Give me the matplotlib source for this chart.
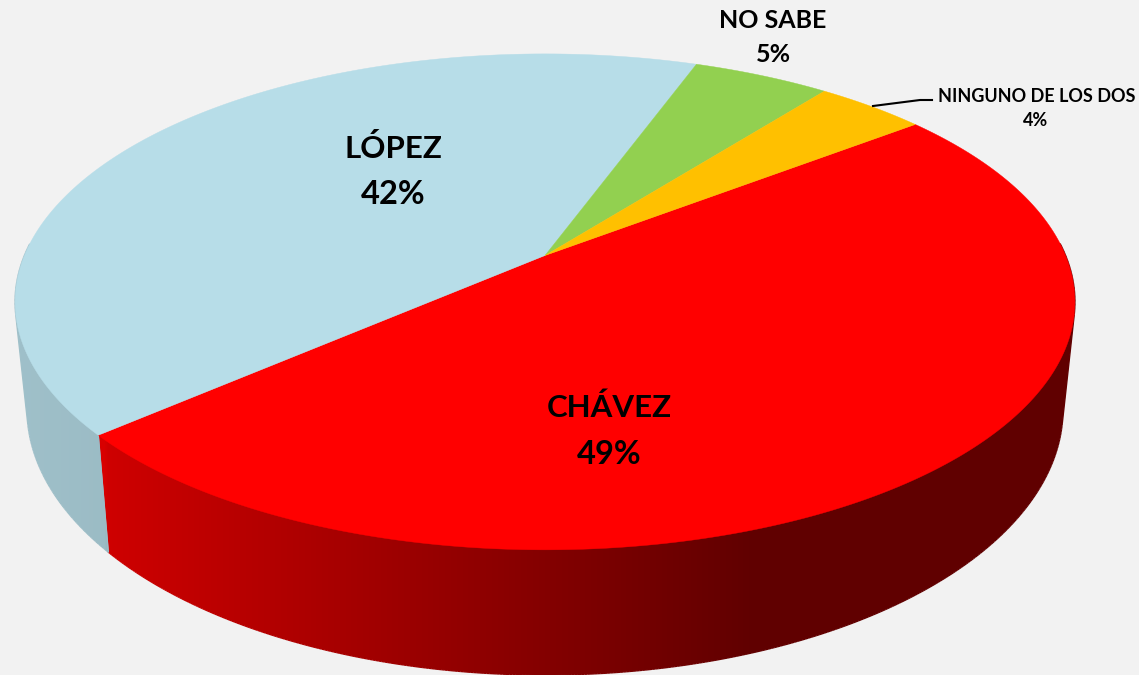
import numpy as np
import matplotlib
matplotlib.use("Agg")
import matplotlib.pyplot as plt
from matplotlib.collections import LineCollection
from matplotlib.patches import Polygon

# slices clockwise from the start angle
labels = ["CHÁVEZ", "LÓPEZ", "NO SABE", "NINGUNO DE LOS DOS"]
values = [49, 42, 5, 4]
colors = ["#FF0000", "#B7DDE8", "#92D050", "#FFC000"]

START_ANGLE = 37.6
BG = "#F2F2F2"
CX = 545
K = 0.187  # perspective strength


# disc projected with perspective, the far side shrinks
def top_rim(t):
    s = 1 + K * np.sin(t)
    return CX + 520.6 * np.cos(t) / s, 255.5 - 239.3 * np.sin(t) / s


def bottom_rim(t):
    s = 1 + K * np.sin(t)
    return CX + 508.9 * np.cos(t) / s, 359.3 - 256.7 * np.sin(t) / s


# side of the pie gets darker going right
def shade(x):
    return np.interp(x, [14, 104, 108, 750], [0.87, 0.85, 0.81, 0.38])


# outline of a side: the top covers the inner part of the hull anyway
def hull(points):
    points = sorted(set(points))

    def half(pts):
        out = []
        for p in pts:
            while len(out) > 1:
                a, b = out[-2], out[-1]
                if (b[0] - a[0]) * (p[1] - a[1]) - (b[1] - a[1]) * (p[0] - a[0]) > 0:
                    break
                out.pop()
            out.append(p)
        return out[:-1]

    return half(points) + half(points[::-1])


fig = plt.figure(figsize=(11.39, 6.75), dpi=100, facecolor=BG)
ax = fig.add_axes([0, 0, 1, 1])

angles = START_ANGLE - np.cumsum([0] + values) * 3.6
xgrid = np.arange(0, 1140)

# sides first, only the part facing the viewer
for i, color in enumerate(colors):
    ts = np.radians(np.linspace(angles[i], angles[i + 1], int(values[i] * 12) + 2))
    ts = ts[np.sin(ts) < 0.05]
    if len(ts) < 2:
        continue
    base = np.array(matplotlib.colors.to_rgb(color))
    xt, yt = top_rim(ts)
    xb, yb = bottom_rim(ts)
    outline = hull(list(zip(xt, yt)) + list(zip(xb, yb)))
    patch = Polygon(outline, closed=True, facecolor="none", edgecolor="none", transform=ax.transData)
    ax.add_patch(patch)
    grad = base[None, None, :] * shade(xgrid)[None, :, None]
    img = ax.imshow(grad, extent=(0, 1139, 675, 0), aspect="auto", interpolation="bilinear", zorder=i + 1)
    img.set_clip_path(patch)
    # soft edge, the clipped image is a bit jagged
    closed = outline + outline[:1]
    segs = [[closed[j], closed[j + 1]] for j in range(len(outline))]
    cols = [base * shade((closed[j][0] + closed[j + 1][0]) / 2) for j in range(len(outline))]
    ax.add_collection(LineCollection(segs, colors=cols, linewidths=1.0, zorder=i + 1))

# faint seam between the two visible sides
seam = np.radians(angles[1])
sx0, sy0 = top_rim(seam)
sx1, sy1 = bottom_rim(seam)
ax.plot([sx0, sx1], [sy0, sy1], color="#9BBCC7", linewidth=0.8, zorder=5)

# top of the pie
for i, color in enumerate(colors):
    ts = np.radians(np.linspace(angles[i], angles[i + 1], int(values[i] * 12) + 2))
    xt, yt = top_rim(ts)
    pts = [(CX, 255.5)] + list(zip(xt, yt))
    ax.add_patch(Polygon(pts, closed=True, facecolor=color, edgecolor=color, linewidth=0.3, zorder=10))

font = "Lato"
ax.text(393, 148, labels[1], ha="center", va="center", fontsize=22.5, fontweight="bold", family=font, zorder=20)
ax.text(393, 194, f"{values[1]}%", ha="center", va="center", fontsize=23.5, fontweight="bold", family=font, zorder=20)
ax.text(609, 408, labels[0], ha="center", va="center", fontsize=22.5, fontweight="bold", family=font, zorder=20)
ax.text(609, 454, f"{values[0]}%", ha="center", va="center", fontsize=23.5, fontweight="bold", family=font, zorder=20)
ax.text(773, 20, labels[2], ha="center", va="center", fontsize=18, fontweight="bold", family=font, zorder=20)
ax.text(773, 54, f"{values[2]}%", ha="center", va="center", fontsize=18, fontweight="bold", family=font, zorder=20)
ax.text(1037, 96, labels[3], ha="center", va="center", fontsize=13, fontweight="bold", family=font, zorder=20)
ax.text(1036, 121, f"{values[3]}%", ha="center", va="center", fontsize=13, fontweight="bold", family=font, zorder=20)

# leader line for the small slice
ax.plot([873, 920, 932], [106, 100, 100], color="black", linewidth=1.5, zorder=15)

ax.set_xlim(0, 1139)
ax.set_ylim(675, 0)
ax.axis("off")

fig.savefig("out.png", dpi=100, facecolor=BG)
